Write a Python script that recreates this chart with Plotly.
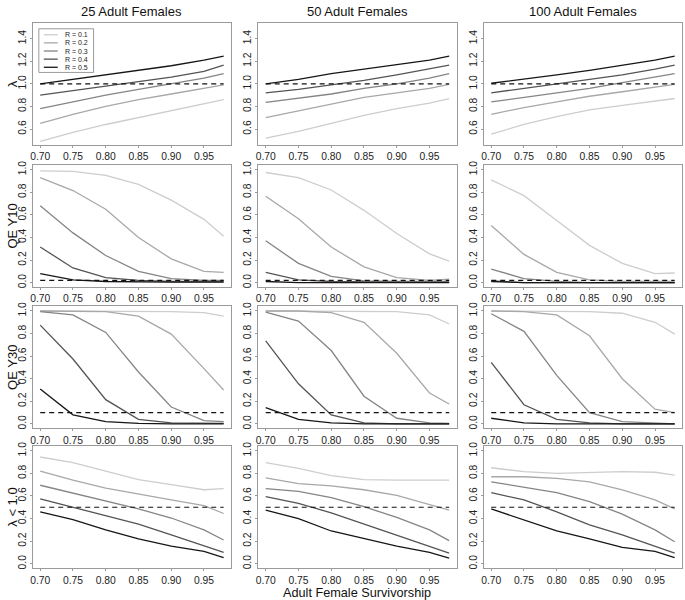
import plotly.graph_objects as go

# ---------------- data ----------------
x_surv = [0.70, 0.75, 0.80, 0.85, 0.90, 0.95, 0.98]
r_labels = ["R = 0.1", "R = 0.2", "R = 0.3", "R = 0.4", "R = 0.5"]
col_titles = ["25 Adult Females", "50 Adult Females", "100 Adult Females"]
row_titles = ["λ", "QE Y10", "QE Y30", "λ < 1.0"]
x_title = "Adult Female Survivorship"
thresholds = [1.0, 0.02, 0.1, 0.5]
x_ticks = [0.70, 0.75, 0.80, 0.85, 0.90, 0.95]
y_ticks_lambda = [0.6, 0.8, 1.0, 1.2, 1.4]
y_ticks_prob = [0.0, 0.2, 0.4, 0.6, 0.8, 1.0]

# lambda (rows: R = 0.1 .. 0.5)
lambda_25 = [
    [0.49, 0.57, 0.64, 0.70, 0.76, 0.82, 0.86],
    [0.65, 0.73, 0.80, 0.86, 0.91, 0.96, 0.99],
    [0.78, 0.84, 0.90, 0.95, 1.00, 1.05, 1.09],
    [0.90, 0.94, 0.98, 1.02, 1.06, 1.11, 1.165],
    [1.00, 1.04, 1.08, 1.125, 1.16, 1.21, 1.245],
]
lambda_50 = [
    [0.52, 0.58, 0.65, 0.72, 0.78, 0.83, 0.87],
    [0.70, 0.76, 0.82, 0.88, 0.92, 0.96, 0.995],
    [0.835, 0.87, 0.91, 0.96, 1.00, 1.05, 1.09],
    [0.92, 0.95, 0.99, 1.03, 1.08, 1.13, 1.165],
    [1.00, 1.04, 1.09, 1.13, 1.17, 1.21, 1.245],
]
lambda_100 = [
    [0.555, 0.64, 0.71, 0.77, 0.81, 0.85, 0.87],
    [0.73, 0.79, 0.84, 0.89, 0.93, 0.97, 0.995],
    [0.84, 0.88, 0.92, 0.96, 1.01, 1.06, 1.09],
    [0.92, 0.96, 1.00, 1.04, 1.08, 1.13, 1.165],
    [1.005, 1.04, 1.08, 1.12, 1.165, 1.21, 1.245],
]

# quasi-extinction probability at year 10
qe10_25 = [
    [0.99, 0.985, 0.95, 0.87, 0.73, 0.56, 0.41],
    [0.93, 0.815, 0.65, 0.40, 0.21, 0.10, 0.09],
    [0.68, 0.44, 0.24, 0.10, 0.035, 0.02, 0.02],
    [0.315, 0.13, 0.045, 0.02, 0.01, 0.01, 0.01],
    [0.08, 0.025, 0.01, 0.005, 0.005, 0.005, 0.005],
]
qe10_50 = [
    [0.975, 0.93, 0.82, 0.64, 0.435, 0.255, 0.19],
    [0.765, 0.565, 0.315, 0.14, 0.045, 0.02, 0.03],
    [0.37, 0.17, 0.055, 0.015, 0.01, 0.01, 0.01],
    [0.09, 0.025, 0.01, 0.005, 0.005, 0.005, 0.005],
    [0.01, 0.0, 0.0, 0.0, 0.0, 0.0, 0.0],
]
qe10_100 = [
    [0.91, 0.77, 0.55, 0.33, 0.17, 0.08, 0.085],
    [0.505, 0.25, 0.09, 0.025, 0.01, 0.01, 0.01],
    [0.12, 0.035, 0.01, 0.0, 0.0, 0.0, 0.0],
    [0.015, 0.0, 0.0, 0.0, 0.0, 0.0, 0.0],
    [0.01, 0.0, 0.0, 0.0, 0.0, 0.0, 0.0],
]

# quasi-extinction probability at year 30
qe30_25 = [
    [1.0, 1.0, 1.0, 1.0, 0.995, 0.985, 0.955],
    [1.0, 1.0, 0.995, 0.955, 0.795, 0.49, 0.30],
    [0.995, 0.965, 0.81, 0.46, 0.15, 0.03, 0.02],
    [0.875, 0.575, 0.215, 0.04, 0.01, 0.005, 0.005],
    [0.31, 0.08, 0.02, 0.005, 0.0, 0.0, 0.0],
]
qe30_50 = [
    [1.0, 1.0, 1.0, 1.0, 0.995, 0.965, 0.885],
    [1.0, 1.0, 0.985, 0.90, 0.626, 0.274, 0.176],
    [0.99, 0.91, 0.65, 0.245, 0.05, 0.01, 0.005],
    [0.735, 0.355, 0.08, 0.01, 0.0, 0.0, 0.0],
    [0.145, 0.04, 0.01, 0.0, 0.0, 0.0, 0.0],
]
qe30_100 = [
    [1.0, 1.0, 1.0, 0.995, 0.98, 0.90, 0.795],
    [1.0, 0.995, 0.965, 0.78, 0.40, 0.13, 0.10],
    [0.975, 0.82, 0.43, 0.10, 0.02, 0.005, 0.0],
    [0.545, 0.17, 0.04, 0.01, 0.0, 0.0, 0.0],
    [0.05, 0.01, 0.0, 0.0, 0.0, 0.0, 0.0],
]

# probability lambda < 1.0
plow_25 = [
    [0.945, 0.895, 0.82, 0.745, 0.70, 0.655, 0.665],
    [0.82, 0.74, 0.67, 0.615, 0.565, 0.515, 0.445],
    [0.695, 0.625, 0.555, 0.485, 0.405, 0.30, 0.21],
    [0.575, 0.50, 0.425, 0.35, 0.255, 0.16, 0.10],
    [0.46, 0.39, 0.30, 0.22, 0.155, 0.11, 0.055],
]
plow_50 = [
    [0.895, 0.845, 0.78, 0.745, 0.74, 0.74, 0.74],
    [0.76, 0.71, 0.69, 0.655, 0.605, 0.52, 0.475],
    [0.665, 0.64, 0.585, 0.505, 0.41, 0.30, 0.205],
    [0.595, 0.535, 0.45, 0.35, 0.255, 0.155, 0.095],
    [0.475, 0.40, 0.29, 0.22, 0.155, 0.10, 0.05],
]
plow_100 = [
    [0.85, 0.815, 0.80, 0.805, 0.815, 0.81, 0.785],
    [0.77, 0.77, 0.755, 0.725, 0.655, 0.565, 0.485],
    [0.725, 0.68, 0.63, 0.55, 0.44, 0.30, 0.195],
    [0.63, 0.565, 0.46, 0.345, 0.255, 0.155, 0.095],
    [0.485, 0.39, 0.29, 0.22, 0.145, 0.11, 0.055],
]

panels = [
    [lambda_25, lambda_50, lambda_100],
    [qe10_25, qe10_50, qe10_100],
    [qe30_25, qe30_50, qe30_100],
    [plow_25, plow_50, plow_100],
]

# ---------------- styling ----------------
W, H = 685, 600
colors = ["#cdcdcd", "#a8a8a8", "#858585", "#545454", "#161616"]
FONT = "Liberation Sans, Arial, Helvetica, sans-serif"
col_left = [30, 256.5, 483]
panel_w = 199
row_top = [19, 162.5, 305, 446]
panel_h = 123
frame_col = "#9a9a9a"

fig = go.Figure()
layout = dict(
    width=W, height=H,
    margin=dict(l=0, r=0, t=0, b=0),
    paper_bgcolor="white", plot_bgcolor="white",
    showlegend=False,
    font=dict(family=FONT, color="#222222"),
)

annotations = []
shapes = []

for r in range(4):
    for c in range(3):
        idx = r * 3 + c + 1
        xa = f"x{idx}" if idx > 1 else "x"
        ya = f"y{idx}" if idx > 1 else "y"
        series = panels[r][c]
        for k, yvals in enumerate(series):
            fig.add_trace(go.Scatter(
                x=x_surv, y=yvals, mode="lines",
                line=dict(color=colors[k], width=1.3),
                xaxis=xa, yaxis=ya, name=r_labels[k], hoverinfo="skip"))
        fig.add_trace(go.Scatter(
            x=[x_surv[0], x_surv[-1]], y=[thresholds[r], thresholds[r]],
            mode="lines", line=dict(color="#111111", width=1.2, dash="5px,4px"),
            xaxis=xa, yaxis=ya, hoverinfo="skip"))

        x0 = col_left[c] / W
        x1 = (col_left[c] + panel_w) / W
        y1 = 1 - row_top[r] / H
        y0 = 1 - (row_top[r] + panel_h) / H
        xkey = "xaxis" if idx == 1 else f"xaxis{idx}"
        ykey = "yaxis" if idx == 1 else f"yaxis{idx}"
        layout[xkey] = dict(
            domain=[x0, x1], anchor=ya, range=[0.6888, 0.9912],
            tickvals=x_ticks, ticktext=[f"{v:.2f}" for v in x_ticks],
            showgrid=False, zeroline=False, showline=True, mirror=True,
            linecolor=frame_col, linewidth=1, ticks="outside", ticklen=2,
            tickcolor=frame_col, tickfont=dict(size=10.3, family=FONT, color="#222222"))
        if r == 0:
            yr = [0.46, 1.54]
            yt = y_ticks_lambda
        else:
            yr = [-0.04, 1.04]
            yt = y_ticks_prob
        layout[ykey] = dict(
            domain=[y0, y1], anchor=xa, range=yr,
            tickvals=yt, ticktext=[f"{v:.1f}" for v in yt], tickangle=-90,
            showgrid=False, zeroline=False, showline=True, mirror=True,
            linecolor=frame_col, linewidth=1, ticks="outside", ticklen=2,
            tickcolor=frame_col, tickfont=dict(size=10.3, family=FONT, color="#222222"))

# column titles
for c in range(3):
    annotations.append(dict(
        x=(col_left[c] + panel_w / 2) / W, y=1 - 8 / H, xref="paper", yref="paper",
        text=col_titles[c], showarrow=False, xanchor="center", yanchor="middle",
        font=dict(size=13, family=FONT, color="#111111")))

# row titles
for r in range(4):
    annotations.append(dict(
        x=9.5 / W, y=1 - (row_top[r] + panel_h / 2) / H, xref="paper", yref="paper",
        text=row_titles[r], showarrow=False, textangle=-90,
        xanchor="center", yanchor="middle",
        font=dict(size=13, family=FONT, color="#111111")))

# x title
annotations.append(dict(
    x=(col_left[1] + panel_w / 2) / W, y=1 - 593.5 / H, xref="paper", yref="paper",
    text=x_title, showarrow=False, xanchor="center", yanchor="middle", borderpad=0,
    font=dict(size=12.7, family=FONT, color="#111111")))

# manual legend in first panel
lg_x0, lg_x1, lg_y0, lg_y1 = 36, 91, 25, 69
shapes.append(dict(type="rect", xref="paper", yref="paper",
                   x0=lg_x0 / W, x1=lg_x1 / W, y0=1 - lg_y1 / H, y1=1 - lg_y0 / H,
                   line=dict(color=frame_col, width=1), fillcolor="white", layer="above"))
for k, lab in enumerate(r_labels):
    yy = 31 + k * 8.2
    shapes.append(dict(type="line", xref="paper", yref="paper",
                       x0=41 / W, x1=55 / W, y0=1 - yy / H, y1=1 - yy / H,
                       line=dict(color=colors[k], width=1.3), layer="above"))
    annotations.append(dict(
        x=61 / W, y=1 - yy / H, xref="paper", yref="paper", text=lab,
        showarrow=False, xanchor="left", yanchor="middle", borderpad=0,
        font=dict(size=7, family=FONT, color="#222222")))

layout["annotations"] = annotations
layout["shapes"] = shapes
fig.update_layout(**layout)
fig.write_html(
    "out.html",
    config={"displayModeBar": False},
    post_script="document.body.style.margin='0';document.body.style.padding='0';"
                "document.body.style.overflow='hidden';",
)
